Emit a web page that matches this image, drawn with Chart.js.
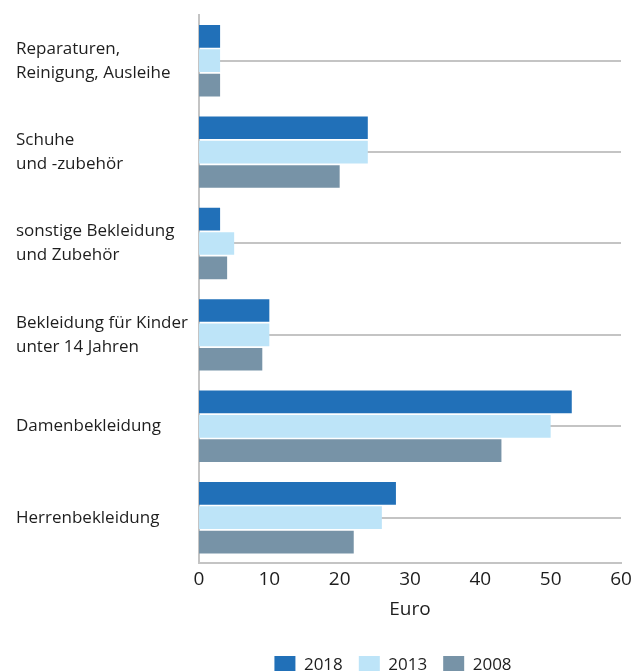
<!DOCTYPE html>
<html>
<head>
<meta charset="utf-8">
<script src="https://cdn.jsdelivr.net/npm/chart.js@4"></script>
<style>
    html, body { margin: 0; padding: 0; background: #fff; overflow: hidden; }
    #wrap { width: 643px; height: 684px; position: relative; }
</style>
</head>
<body>
<div id="wrap"><canvas id="chart"></canvas></div>
<script>
// --- Data ---
const categories = [
    ['Reparaturen,', 'Reinigung, Ausleihe'],
    ['Schuhe', 'und -zubehör'],
    ['sonstige Bekleidung', 'und Zubehör'],
    ['Bekleidung für Kinder', 'unter 14 Jahren'],
    ['Damenbekleidung'],
    ['Herrenbekleidung']
];
const values2018 = [3, 24, 3, 10, 53, 28];
const values2013 = [3, 24, 5, 10, 50, 26];
const values2008 = [3, 20, 4, 9, 43, 22];
const xTicks = [0, 10, 20, 30, 40, 50, 60];

const gridGray = '#c4c4c4';
const textColor = '#1e1e1e';

// move the legend so it sits under the plot area, not the whole canvas
const legendShift = {
    id: 'legendShift',
    afterLayout(chart) {
        const legend = chart.legend;
        const area = chart.chartArea;
        const target = (area.left + area.right) / 2 - 17;
        const dx = target - (legend.left + legend.right) / 2;
        legend.left += dx;
        legend.right += dx;
    }
};

const ctx = document.getElementById('chart').getContext('2d');
new Chart(ctx, {
    type: 'bar',
    data: {
        labels: categories,
        datasets: [
            { label: '2018', data: values2018, backgroundColor: '#2170b8' },
            { label: '2013', data: values2013, backgroundColor: '#bde4f8' },
            { label: '2008', data: values2008, backgroundColor: '#7793a7' }
        ]
    },
    options: {
        indexAxis: 'y',
        responsive: true,
        maintainAspectRatio: false,
        animation: false,
        categoryPercentage: 0.8,
        barPercentage: 0.93,
        layout: { padding: { left: 16, top: 12, right: 22, bottom: 0 } },
        scales: {
            x: {
                min: 0,
                max: 60,
                afterBuildTicks: (scale) => { scale.ticks = xTicks.map(v => ({ value: v })); },
                grid: { display: false, drawTicks: false },
                border: { display: true, color: gridGray, width: 2 },
                ticks: {
                    color: textColor,
                    padding: 5,
                    font: { family: 'Open Sans', size: 19 }
                },
                title: {
                    display: true,
                    text: 'Euro',
                    color: textColor,
                    padding: { top: 2, bottom: 19 },
                    font: { family: 'Open Sans', size: 19 }
                }
            },
            y: {
                afterFit: (scale) => { scale.width = 183; },
                grid: { offset: false, color: gridGray, lineWidth: 2, drawTicks: false },
                border: { display: true, color: gridGray, width: 2 },
                ticks: {
                    crossAlign: 'far',
                    color: textColor,
                    font: { family: 'Open Sans', size: 17, lineHeight: 1.41 }
                }
            }
        },
        plugins: {
            tooltip: { enabled: false },
            legend: {
                position: 'bottom',
                labels: {
                    color: textColor,
                    boxWidth: 21,
                    boxHeight: 18,
                    padding: 16,
                    font: { family: 'Open Sans', size: 17 }
                }
            }
        }
    },
    plugins: [legendShift]
});
</script>
</body>
</html>
